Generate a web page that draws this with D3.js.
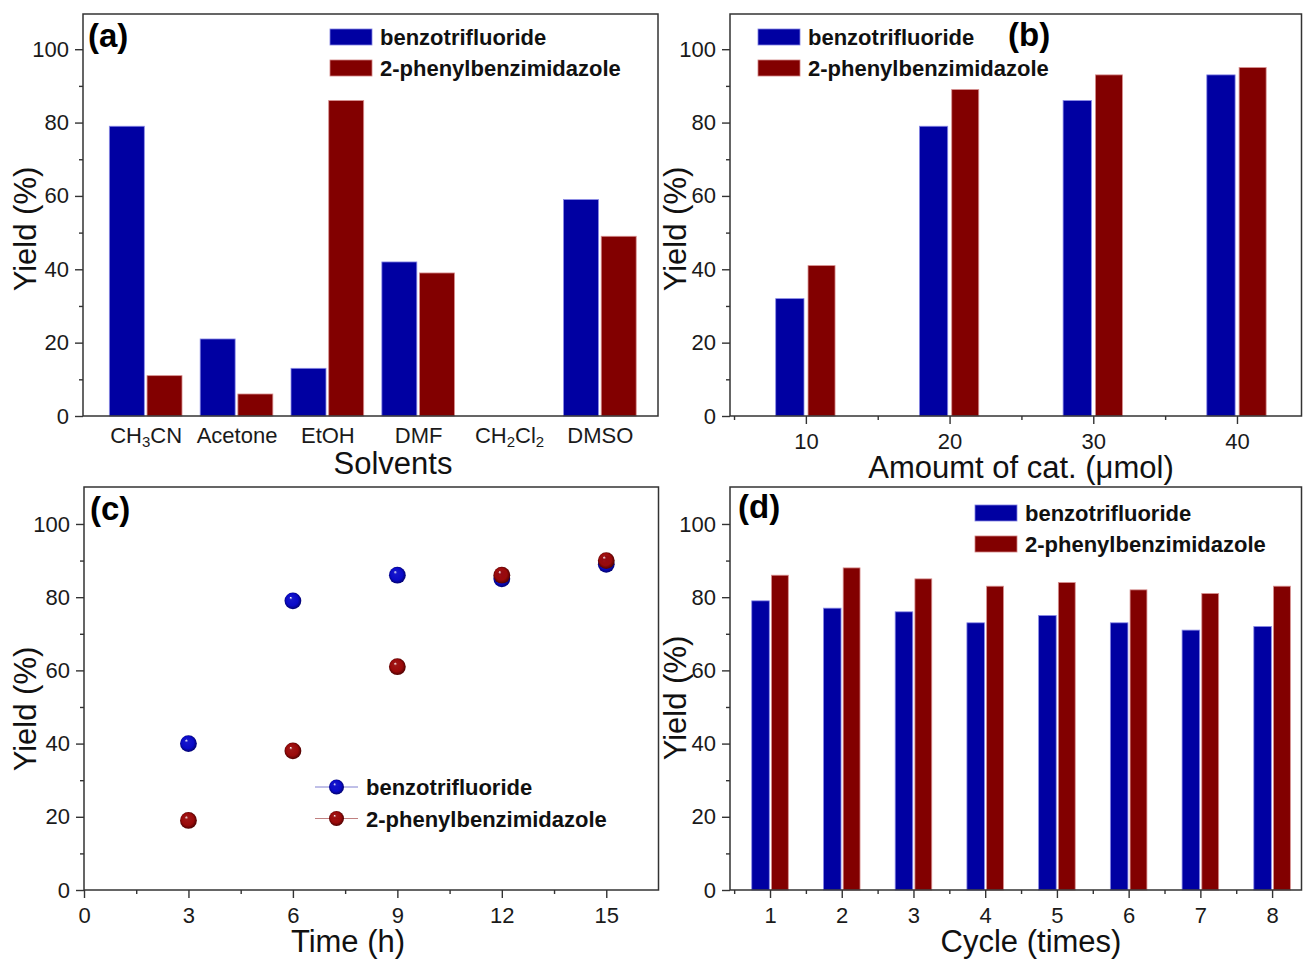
<!DOCTYPE html>
<html>
<head>
<meta charset="utf-8">
<script src="https://cdn.jsdelivr.net/npm/d3@7"></script>
<style>
  html, body { margin: 0; padding: 0; background: #fff; }
  svg { display: block; }
</style>
</head>
<body>
<svg id="fig" width="1303" height="959"></svg>
<script>
// ---- data ----
const seriesNames = ["benzotrifluoride", "2-phenylbenzimidazole"];

// (a) solvent screening
const solvents = ["CH3CN", "Acetone", "EtOH", "DMF", "CH2Cl2", "DMSO"];
const solventBenzo = [79, 21, 13, 42, 0, 59];
const solventPhenyl = [11, 6, 86, 39, 0, 49];

// (b) catalyst amount (µmol)
const catAmount = [10, 20, 30, 40];
const catBenzo = [32, 79, 86, 93];
const catPhenyl = [41, 89, 93, 95];

// (c) reaction time (h)
const timeHours = [3, 6, 9, 12, 15];
const timeBenzo = [40, 79, 86, 85, 89];
const timePhenyl = [19, 38, 61, 86, 90];

// (d) recycling
const cycles = [1, 2, 3, 4, 5, 6, 7, 8];
const cycleBenzo = [79, 77, 76, 73, 75, 73, 71, 72];
const cyclePhenyl = [86, 88, 85, 83, 84, 82, 81, 83];

// axis ticks
const yMajor = [0, 20, 40, 60, 80, 100];
const yMinor = [10, 30, 50, 70, 90];
const catMajor = [10, 20, 30, 40];
const catMinor = [5, 15, 25, 35];
const timeMajor = [0, 3, 6, 9, 12, 15];
const timeMinor = [1.5, 4.5, 7.5, 10.5, 13.5];
const cycleMinor = [0.5, 1.5, 2.5, 3.5, 4.5, 5.5, 6.5, 7.5];

// ---- style ----
const FONT = "'Liberation Sans', Arial, Helvetica, sans-serif";
const BLUE = "#0000a2";
const RED = "#820000";
const AXIS = "#333";

const svg = d3.select("#fig");

// sphere-like gradients for the scatter markers
const defs = svg.append("defs");
function sphereGradient(id, base, dark) {
  const g = defs.append("radialGradient").attr("id", id)
    .attr("cx", "50%").attr("cy", "50%").attr("r", "55%")
    .attr("fx", "36%").attr("fy", "30%");
  g.append("stop").attr("offset", "0%").attr("stop-color", "#ffffff");
  g.append("stop").attr("offset", "18%").attr("stop-color", base).attr("stop-opacity", 0.95);
  g.append("stop").attr("offset", "65%").attr("stop-color", base);
  g.append("stop").attr("offset", "100%").attr("stop-color", dark);
}
sphereGradient("sphBlue", "#0a0ac8", "#00005a");
sphereGradient("sphRed", "#9a0a0a", "#3c0000");

// ---- helpers ----
function styleAxis(sel, fontSize) {
  sel.select(".domain").remove();
  sel.selectAll(".tick line").attr("stroke", AXIS).attr("stroke-width", 1.4);
  sel.selectAll(".tick text")
    .attr("font-family", FONT).attr("font-size", fontSize).attr("fill", "#1a1a1a");
}

function drawYAxis(g, y, box) {
  const major = g.append("g").attr("transform", `translate(${box.x0},0)`)
    .call(d3.axisLeft(y).tickValues(yMajor).tickSize(8).tickPadding(6));
  styleAxis(major, 22);
  const minor = g.append("g").attr("transform", `translate(${box.x0},0)`)
    .call(d3.axisLeft(y).tickValues(yMinor).tickSize(4).tickFormat(""));
  styleAxis(minor, 22);
}

function drawFrame(g, box) {
  g.append("rect")
    .attr("x", box.x0).attr("y", box.y0)
    .attr("width", box.x1 - box.x0).attr("height", box.y1 - box.y0)
    .attr("fill", "none").attr("stroke", AXIS).attr("stroke-width", 1.5);
}

function yTitle(g, x, yc) {
  g.append("text")
    .attr("transform", `translate(${x},${yc}) rotate(-90)`)
    .attr("text-anchor", "middle")
    .attr("font-family", FONT).attr("font-size", 31).attr("fill", "#111")
    .text("Yield (%)");
}

function xTitle(g, x, y, txt) {
  g.append("text").attr("x", x).attr("y", y)
    .attr("text-anchor", "middle")
    .attr("font-family", FONT).attr("font-size", 31).attr("fill", "#111")
    .text(txt);
}

function panelLabel(g, x, y, txt) {
  g.append("text").attr("x", x).attr("y", y)
    .attr("font-family", FONT).attr("font-size", 33).attr("font-weight", "bold")
    .attr("fill", "#000").text(txt);
}

function barLegend(g, x, y) {
  [BLUE, RED].forEach((c, i) => {
    g.append("rect").attr("x", x).attr("y", y + i * 31)
      .attr("width", 42).attr("height", 16).attr("fill", c)
      .attr("stroke", i === 0 ? "#7f7fe0" : "#d08080").attr("stroke-width", 0.8);
    g.append("text").attr("x", x + 50).attr("y", y + i * 31 + 16)
      .attr("font-family", FONT).attr("font-size", 22).attr("font-weight", "bold")
      .attr("fill", "#111").text(seriesNames[i]);
  });
}

function drawBars(g, x, y, cats, vals, off0, off1, color, edge) {
  g.selectAll(null).data(cats.map((c, i) => ({ c, v: vals[i] })).filter(d => d.v > 0))
    .enter().append("rect")
    .attr("x", d => x(d.c + off0))
    .attr("width", d => x(d.c + off1) - x(d.c + off0))
    .attr("y", d => y(d.v))
    .attr("height", d => y(0) - y(d.v))
    .attr("fill", color)
    .attr("stroke", edge).attr("stroke-width", 0.8);
}

// ================= (a) solvents =================
{
  const box = { x0: 83, x1: 658, y0: 14, y1: 416 };
  const g = svg.append("g");
  const idx = solvents.map((s, i) => i);
  const x = d3.scaleLinear().domain([-0.69, 5.64]).range([box.x0, box.x1]);
  const y = d3.scaleLinear().domain([0, 109.6]).range([box.y1, box.y0]);

  drawBars(g, x, y, idx, solventBenzo, -0.40, -0.015, BLUE, "#8a8ae6");
  drawBars(g, x, y, idx, solventPhenyl, 0.015, 0.40, RED, "#d89090");
  drawYAxis(g, y, box);

  const xa = g.append("g").attr("transform", `translate(0,${box.y1})`)
    .call(d3.axisBottom(x).tickValues(idx).tickSize(0).tickPadding(11.5)
      .tickFormat(i => solvents[i]));
  styleAxis(xa, 22);
  // chemical formulas: digits as subscripts
  xa.selectAll(".tick text").each(function (i) {
    const t = d3.select(this);
    const parts = solvents[i].match(/\d+|\D+/g);
    t.text(null);
    parts.forEach(p => {
      const isNum = /^\d+$/.test(p);
      t.append("tspan")
        .attr("font-size", isNum ? 15 : 22)
        .attr("baseline-shift", isNum ? "-28%" : null)
        .text(p);
    });
  });

  drawFrame(g, box);
  yTitle(g, 36, 229);
  xTitle(g, 393, 474, "Solvents");
  panelLabel(g, 88, 47, "(a)");
  barLegend(g, 330, 29);
}

// ================= (b) catalyst amount =================
{
  const box = { x0: 730, x1: 1301.5, y0: 14, y1: 416 };
  const g = svg.append("g");
  const x = d3.scaleLinear().domain([4.72, 44.49]).range([box.x0, box.x1]);
  const y = d3.scaleLinear().domain([0, 109.6]).range([box.y1, box.y0]);

  drawBars(g, x, y, catAmount, catBenzo, -2.1, -0.13, BLUE, "#8a8ae6");
  drawBars(g, x, y, catAmount, catPhenyl, 0.15, 2.03, RED, "#d89090");
  drawYAxis(g, y, box);

  const xa = g.append("g").attr("transform", `translate(0,${box.y1})`)
    .call(d3.axisBottom(x).tickValues(catMajor).tickSize(8).tickPadding(9.5));
  styleAxis(xa, 22);
  const xm = g.append("g").attr("transform", `translate(0,${box.y1})`)
    .call(d3.axisBottom(x).tickValues(catMinor).tickSize(4).tickFormat(""));
  styleAxis(xm, 22);

  drawFrame(g, box);
  yTitle(g, 686, 229);
  xTitle(g, 1021, 478, "Amoumt of cat. (\u03BCmol)");
  panelLabel(g, 1008, 46, "(b)");
  barLegend(g, 758, 29);
}

// ================= (c) reaction time =================
{
  const box = { x0: 84, x1: 658.5, y0: 487, y1: 890 };
  const g = svg.append("g");
  const x = d3.scaleLinear().domain([0, 16.5]).range([box.x0, box.x1]);
  const y = d3.scaleLinear().domain([0, 110.1]).range([box.y1, box.y0]);

  drawYAxis(g, y, box);
  const xa = g.append("g").attr("transform", `translate(0,${box.y1})`)
    .call(d3.axisBottom(x).tickValues(timeMajor).tickSize(8).tickPadding(9));
  styleAxis(xa, 22);
  const xm = g.append("g").attr("transform", `translate(0,${box.y1})`)
    .call(d3.axisBottom(x).tickValues(timeMinor).tickSize(4).tickFormat(""));
  styleAxis(xm, 22);

  const series = [
    { vals: timeBenzo, fill: "url(#sphBlue)" },
    { vals: timePhenyl, fill: "url(#sphRed)" }
  ];
  series.forEach(s => {
    g.selectAll(null).data(timeHours.map((t, i) => ({ t, v: s.vals[i] })))
      .enter().append("circle")
      .attr("cx", d => x(d.t)).attr("cy", d => y(d.v))
      .attr("r", 8.4).attr("fill", s.fill);
  });

  drawFrame(g, box);
  yTitle(g, 36, 709);
  xTitle(g, 348, 952, "Time (h)");
  panelLabel(g, 90, 520, "(c)");

  // legend: line + sphere sample
  const lg = [
    { y: 787, line: "#8080d0", fill: "url(#sphBlue)" },
    { y: 818.5, line: "#c08080", fill: "url(#sphRed)" }
  ];
  lg.forEach((d, i) => {
    g.append("line").attr("x1", 315).attr("x2", 358).attr("y1", d.y).attr("y2", d.y)
      .attr("stroke", d.line).attr("stroke-width", 1);
    g.append("circle").attr("cx", 336.5).attr("cy", d.y).attr("r", 7.5).attr("fill", d.fill);
    g.append("text").attr("x", 366).attr("y", d.y + 8)
      .attr("font-family", FONT).attr("font-size", 22).attr("font-weight", "bold")
      .attr("fill", "#111").text(seriesNames[i]);
  });
}

// ================= (d) recycling =================
{
  const box = { x0: 730, x1: 1301.5, y0: 487, y1: 890 };
  const g = svg.append("g");
  const x = d3.scaleLinear().domain([0.442, 8.41]).range([box.x0, box.x1]);
  const y = d3.scaleLinear().domain([0, 110.1]).range([box.y1, box.y0]);

  drawBars(g, x, y, cycles, cycleBenzo, -0.255, -0.01, BLUE, "#8a8ae6");
  drawBars(g, x, y, cycles, cyclePhenyl, 0.02, 0.255, RED, "#d89090");
  drawYAxis(g, y, box);

  const xa = g.append("g").attr("transform", `translate(0,${box.y1})`)
    .call(d3.axisBottom(x).tickValues(cycles).tickSize(8).tickPadding(9));
  styleAxis(xa, 22);
  const xm = g.append("g").attr("transform", `translate(0,${box.y1})`)
    .call(d3.axisBottom(x).tickValues(cycleMinor).tickSize(4).tickFormat(""));
  styleAxis(xm, 22);

  drawFrame(g, box);
  yTitle(g, 686, 698);
  xTitle(g, 1031, 952, "Cycle (times)");
  panelLabel(g, 738, 518, "(d)");
  barLegend(g, 975, 505);
}
</script>
</body>
</html>
